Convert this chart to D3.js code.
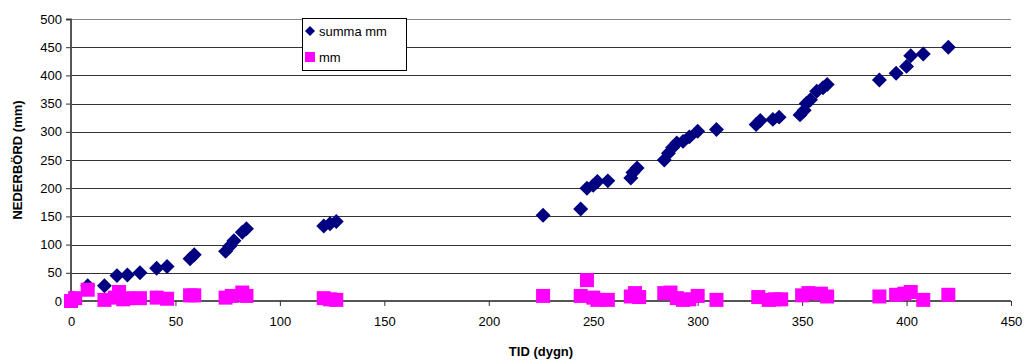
<!DOCTYPE html>
<html>
<head>
<meta charset="utf-8">
<script src="https://cdn.jsdelivr.net/npm/d3@7"></script>
<style>
  body { margin: 0; background: #fff; }
  svg { display: block; font-family: Arial, "Liberation Sans", sans-serif; }
</style>
</head>
<body>
<svg class="chart"></svg>
<script>
// summa mm (cumulative)
var sumDays = [1, 8, 16, 22, 27, 33, 41, 46, 57, 59, 74, 76, 78, 82, 84, 121, 124, 127,
  226, 244, 247, 250, 252, 257, 268, 269, 271, 284, 286, 288, 290, 293, 296, 300, 309,
  328, 330, 336, 339, 349, 351, 352, 354, 357, 360, 362, 387, 395, 400, 402, 408, 420];
var sumMm = [5, 27, 27, 45, 46, 50, 58, 61, 75, 82, 88, 97, 107, 122, 128, 133, 137, 141,
  152, 163, 200, 205, 212, 213, 218, 228, 236, 250, 262, 272, 280, 283, 291, 301, 304,
  313, 320, 322, 326, 330, 338, 350, 357, 372, 378, 384, 392, 404, 416, 435, 438, 450];

// mm (per measurement)
var dayDays = [0, 2, 8, 16, 21, 23, 25, 27, 33, 41, 46, 57, 59, 74, 77, 82, 84, 121, 124, 127,
  226, 244, 247, 250, 252, 257, 268, 270, 272, 284, 287, 290, 293, 296, 300, 309,
  329, 334, 337, 340, 350, 353, 359, 362, 387, 395, 399, 402, 408, 420];
var dayMm = [0, 5, 20, 2, 6, 16, 3, 5, 5, 6, 4, 10, 10, 6, 9, 15, 9, 5, 3, 2,
  9, 9, 37, 6, 2, 2, 8, 14, 7, 14, 15, 5, 2, 3, 9, 2,
  7, 2, 3, 3, 10, 14, 13, 8, 8, 11, 13, 16, 2, 11];

var xTicks = d3.range(0, 451, 50);
var yTicks = d3.range(0, 501, 50);

var margin = {top: 19, right: 15, bottom: 59, left: 71},
    width = 1026 - margin.left - margin.right,
    height = 360 - margin.top - margin.bottom;

var svg = d3.select(".chart")
    .attr("width", 1026)
    .attr("height", 360);

var g = svg.append("g")
    .attr("transform", "translate(" + margin.left + "," + margin.top + ")");

var x = d3.scaleLinear().domain([0, 450]).range([0, 940]);
var y = d3.scaleLinear().domain([0, 500]).range([height, 0]);

// gridlines
g.selectAll(".grid")
    .data(yTicks.slice(1))
  .enter().append("line")
    .attr("class", "grid")
    .attr("x1", 0)
    .attr("x2", 940)
    .attr("y1", function(d) { return Math.round(y(d)) + 0.5; })
    .attr("y2", function(d) { return Math.round(y(d)) + 0.5; })
    .attr("stroke", function(d) { return d == 500 ? "#888" : "#333"; })
    .attr("stroke-width", 1);

// axes
var yAxis = g.append("g")
    .call(d3.axisLeft(y).tickValues(yTicks).tickSize(5).tickPadding(4));
var xAxis = g.append("g")
    .attr("transform", "translate(0," + height + ")")
    .call(d3.axisBottom(x).tickValues(xTicks).tickSize(5).tickPadding(11));

[yAxis, xAxis].forEach(function(a) {
  a.select(".domain").attr("stroke", "#555").attr("stroke-width", 2);
  a.selectAll(".tick line").attr("stroke", "#333");
  a.selectAll(".tick text")
    .attr("font-size", "13px")
    .attr("fill", "#000")
    .attr("font-family", "Arial, 'Liberation Sans', sans-serif");
});
yAxis.select(".domain").attr("d", "M-5,0.5H0V" + height);
xAxis.select(".domain").attr("d", "M0,0H940");

var diamond = d3.symbol().type(d3.symbolSquare).size(112);

// summa mm series
g.selectAll(".sum")
    .data(sumDays)
  .enter().append("path")
    .attr("class", "sum")
    .attr("d", diamond)
    .attr("transform", function(d, i) {
      return "translate(" + x(d) + "," + y(sumMm[i]) + ") rotate(45)";
    })
    .attr("fill", "#000080");

// mm series
g.selectAll(".day")
    .data(dayDays)
  .enter().append("rect")
    .attr("class", "day")
    .attr("x", function(d) { return x(d) - 7; })
    .attr("y", function(d, i) { return y(dayMm[i]) - 7; })
    .attr("width", 14)
    .attr("height", 14)
    .attr("fill", "#ff00ff");

// legend
var legend = svg.append("g")
    .attr("transform", "translate(302,18)");

legend.append("rect")
    .attr("x", 0.5)
    .attr("y", 0.5)
    .attr("width", 104)
    .attr("height", 52)
    .attr("fill", "#fff")
    .attr("stroke", "#000");

legend.append("path")
    .attr("d", d3.symbol().type(d3.symbolSquare).size(50))
    .attr("transform", "translate(8,13) rotate(45)")
    .attr("fill", "#000080");
legend.append("rect")
    .attr("x", 3)
    .attr("y", 34)
    .attr("width", 10)
    .attr("height", 10)
    .attr("fill", "#ff00ff");

legend.append("text")
    .attr("x", 17)
    .attr("y", 18)
    .attr("font-size", "13px")
    .text("summa mm");
legend.append("text")
    .attr("x", 17)
    .attr("y", 44)
    .attr("font-size", "13px")
    .text("mm");

// axis titles
svg.append("text")
    .attr("x", 71 + 470)
    .attr("y", 356)
    .attr("text-anchor", "middle")
    .attr("font-size", "13px")
    .attr("font-weight", "bold")
    .text("TID (dygn)");

svg.append("text")
    .attr("transform", "translate(22," + (margin.top + height / 2) + ") rotate(-90)")
    .attr("text-anchor", "middle")
    .attr("font-size", "13px")
    .attr("font-weight", "bold")
    .text("NEDERBÖRD (mm)");
</script>
</body>
</html>
